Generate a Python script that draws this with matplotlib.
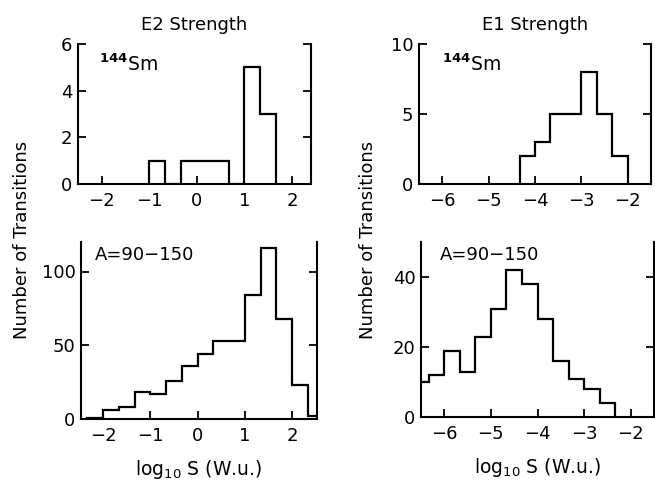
import numpy as np
import matplotlib
matplotlib.use("Agg")
import matplotlib.pyplot as plt

plt.rcParams['font.family'] = ['DejaVu Sans']

# E2, 144Sm
e2sm_edges = [-1.0, -0.667, -0.333, 0.0, 0.333, 0.667, 1.0, 1.333, 1.667]
e2sm_counts = [1, 0, 1, 1, 1, 0, 5, 3]
# E1, 144Sm
e1sm_edges = [-4.333, -4.0, -3.667, -3.333, -3.0, -2.667, -2.333, -2.0]
e1sm_counts = [2, 3, 5, 5, 8, 5, 2]
# E2, A=90-150
e2a_edges = [-2.333, -2.0, -1.667, -1.333, -1.0, -0.667, -0.333, 0.0, 0.333,
             0.667, 1.0, 1.333, 1.667, 2.0, 2.333, 2.667]
e2a_counts = [1, 6, 8, 18, 17, 26, 36, 44, 53, 53, 84, 116, 68, 23, 2]
# E1, A=90-150
e1a_edges = [-6.667, -6.333, -6.0, -5.667, -5.333, -5.0, -4.667, -4.333, -4.0,
             -3.667, -3.333, -3.0, -2.667, -2.333]
e1a_counts = [10, 12, 19, 13, 23, 31, 42, 38, 28, 16, 11, 8, 4]

W, H = 655, 484
fig = plt.figure(figsize=(W / 100, H / 100), dpi=100)

def box(l, r, t, b):
    return [l / W, 1 - b / H, (r - l) / W, (b - t) / H]

ax_tl = fig.add_axes(box(78, 311, 44, 184))
ax_tr = fig.add_axes(box(419, 651, 44, 184))
ax_bl = fig.add_axes(box(81, 317, 242, 419))
ax_br = fig.add_axes(box(421, 654, 242, 417))

FS = 13

def style(ax, xlim, ylim, xticks, yticks):
    ax.set_xlim(*xlim)
    ax.set_ylim(*ylim)
    ax.set_xticks(xticks)
    ax.set_yticks(yticks)
    ax.set_xticklabels([str(t).replace('-', '\u2212') for t in xticks])
    ax.set_yticklabels([str(t) for t in yticks])
    ax.spines['top'].set_visible(False)
    for s in ['left', 'right', 'bottom']:
        ax.spines[s].set_linewidth(1.5)
    ax.tick_params(direction='in', length=6, width=1.3, labelsize=FS,
                   left=True, right=True, bottom=True, top=False, pad=6)
    ax.tick_params(axis='y', pad=4)

for ax, edges, counts in [(ax_tl, e2sm_edges, e2sm_counts),
                          (ax_tr, e1sm_edges, e1sm_counts),
                          (ax_bl, e2a_edges, e2a_counts),
                          (ax_br, e1a_edges, e1a_counts)]:
    ax.stairs(counts, edges, color='black', linewidth=1.6, baseline=0)

style(ax_tl, (-2.5, 2.4), (0, 6), [-2, -1, 0, 1, 2], [0, 2, 4, 6])
style(ax_tr, (-6.5, -1.5), (0, 10), [-6, -5, -4, -3, -2], [0, 5, 10])
style(ax_bl, (-2.47, 2.53), (0, 120), [-2, -1, 0, 1, 2], [0, 50, 100])
style(ax_br, (-6.5, -1.5), (0, 50), [-6, -5, -4, -3, -2], [0, 20, 40])

ax_tl.set_title('E2 Strength', fontsize=FS, pad=10)
ax_tr.set_title('E1 Strength', fontsize=FS, pad=10)

ax_tl.text(0.09, 0.93, r'$^{\mathbf{144}}$Sm', transform=ax_tl.transAxes,
           fontsize=FS + 0.5, va='top', ha='left')
ax_tr.text(0.1, 0.93, r'$^{\mathbf{144}}$Sm', transform=ax_tr.transAxes,
           fontsize=FS + 0.5, va='top', ha='left')
ax_bl.text(0.06, 0.975, 'A=90\u2212150', transform=ax_bl.transAxes,
           fontsize=FS, va='top', ha='left')
ax_br.text(0.08, 0.975, 'A=90\u2212150', transform=ax_br.transAxes,
           fontsize=FS, va='top', ha='left')

fig.text(22 / W, 1 - 240 / H, 'Number of Transitions', rotation=90,
         fontsize=13, ha='center', va='center')
fig.text(368 / W, 1 - 240 / H, 'Number of Transitions', rotation=90,
         fontsize=13, ha='center', va='center')

ax_bl.set_xlabel(r'log$_{10}$ S (W.u.)', fontsize=13.5, labelpad=9)
ax_br.set_xlabel(r'log$_{10}$ S (W.u.)', fontsize=13.5, labelpad=9)

fig.savefig('out.png', dpi=100)
